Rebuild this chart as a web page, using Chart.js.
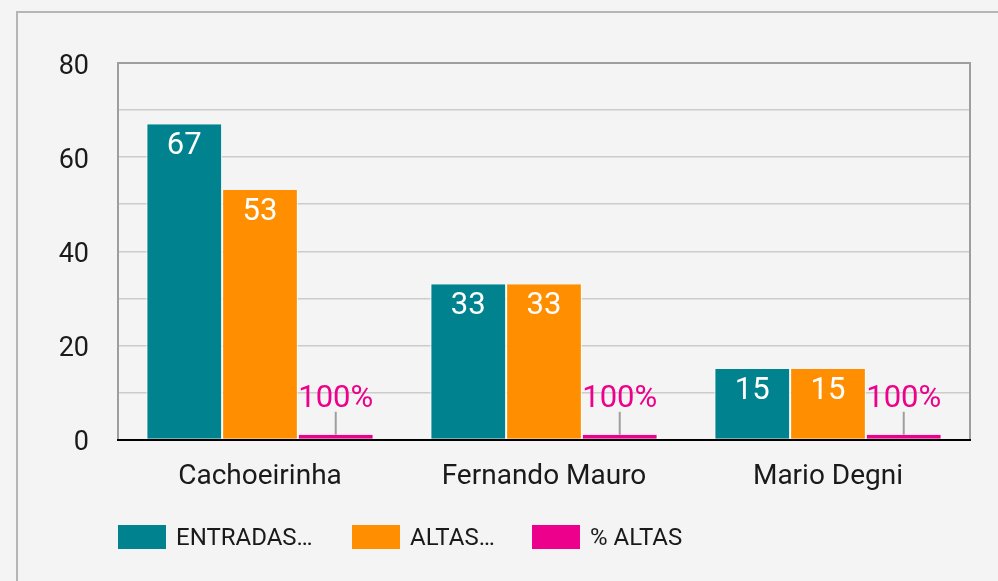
<!DOCTYPE html>
<html><head><meta charset="utf-8">
<script src="https://cdn.jsdelivr.net/npm/chart.js@4"></script>
<style>
html,body{margin:0;padding:0;background:#f4f4f4;width:998px;height:581px;overflow:hidden}
#frame{position:absolute;left:16px;top:11px;width:1200px;height:800px;border-left:2px solid #b5b5b5;border-top:2px solid #b5b5b5}
canvas{position:absolute;left:0;top:0}
</style></head><body>
<div id="frame"></div>
<canvas id="c" width="998" height="581"></canvas>
<script>
const categories = ['Cachoeirinha', 'Fernando Mauro', 'Mario Degni'];
const seriesNames = ['ENTRADAS…', 'ALTAS…', '% ALTAS'];
const entradas = [67, 33, 15];
const altas = [53, 33, 15];
const pctAltas = [1, 1, 1];
const pctLabels = ['100%', '100%', '100%'];
const yMax = 80;
const yStep = 10;
const yLabelStep = 20;
const colors = ['#00838f', '#ff8f00', '#ec008c'];

const FONT = 'Roboto';

const frameLines = {
  id: 'frameLines',
  afterDatasetsDraw(chart) {
    const {ctx, chartArea: a} = chart;
    ctx.save();
    ctx.strokeStyle = '#9e9e9e';
    ctx.lineWidth = 2;
    ctx.beginPath();
    ctx.moveTo(a.left, a.bottom);
    ctx.lineTo(a.left, a.top);
    ctx.lineTo(a.right, a.top);
    ctx.lineTo(a.right, a.bottom);
    ctx.stroke();
    ctx.strokeStyle = '#000';
    ctx.lineWidth = 2;
    ctx.beginPath();
    ctx.moveTo(a.left - 1, a.bottom + 0.5);
    ctx.lineTo(a.right + 1, a.bottom + 0.5);
    ctx.stroke();
    ctx.restore();
  }
};

const valueLabels = {
  id: 'valueLabels',
  afterDatasetsDraw(chart) {
    const ctx = chart.ctx;
    ctx.save();
    ctx.textAlign = 'center';
    ctx.textBaseline = 'alphabetic';
    ctx.font = '31px ' + FONT;
    [0, 1].forEach(di => {
      chart.getDatasetMeta(di).data.forEach((bar, i) => {
        ctx.fillStyle = '#ffffff';
        ctx.fillText(String(chart.data.datasets[di].data[i]), bar.x, bar.y + 30);
      });
    });
    chart.getDatasetMeta(2).data.forEach((bar, i) => {
      ctx.strokeStyle = '#9e9e9e';
      ctx.lineWidth = 2;
      ctx.beginPath();
      ctx.moveTo(bar.x, bar.y - 23);
      ctx.lineTo(bar.x, bar.y);
      ctx.stroke();
      ctx.fillStyle = colors[2];
      ctx.fillText(pctLabels[i], bar.x, bar.y - 28);
    });
    ctx.restore();
  }
};

const customLegend = {
  id: 'customLegend',
  afterDraw(chart) {
    const ctx = chart.ctx;
    const left = chart.chartArea.left;
    const offsets = [0, 234, 414];
    ctx.save();
    ctx.font = '24px ' + FONT;
    ctx.textAlign = 'left';
    ctx.textBaseline = 'alphabetic';
    chart.data.datasets.forEach((ds, i) => {
      const x = left + offsets[i];
      ctx.fillStyle = ds.backgroundColor;
      ctx.fillRect(x, 525, 48, 24);
      ctx.fillStyle = '#1a1a1a';
      ctx.fillText(ds.label, x + 58, 545);
    });
    ctx.restore();
  }
};

const barBorder = {left: 1, right: 1, top: 0, bottom: 0};

new Chart(document.getElementById('c'), {
  type: 'bar',
  data: {
    labels: categories,
    datasets: [
      {label: seriesNames[0], data: entradas, backgroundColor: colors[0], borderColor: '#ffffff', borderWidth: barBorder},
      {label: seriesNames[1], data: altas, backgroundColor: colors[1], borderColor: '#ffffff', borderWidth: barBorder},
      {label: seriesNames[2], data: pctAltas, backgroundColor: colors[2], borderColor: '#ffffff', borderWidth: barBorder}
    ]
  },
  options: {
    responsive: false,
    animation: false,
    events: [],
    layout: {padding: {left: 0, right: 28, top: 63, bottom: 81.5}},
    datasets: {bar: {categoryPercentage: 0.8, barPercentage: 1}},
    plugins: {legend: {display: false}, tooltip: {enabled: false}},
    scales: {
      x: {
        grid: {display: false},
        border: {display: false},
        ticks: {color: '#1a1a1a', font: {family: FONT, size: 28}, padding: 13},
        afterFit(s) { s.height = 60; }
      },
      y: {
        min: 0, max: yMax,
        grid: {color: '#cccccc', lineWidth: 1.5, drawTicks: false},
        border: {display: false},
        ticks: {
          stepSize: yStep,
          color: '#1a1a1a',
          font: {family: FONT, size: 27},
          padding: 29,
          labelOffset: 4,
          callback: v => (v % yLabelStep === 0 ? String(v) : '')
        },
        afterFit(s) { s.width = 118; }
      }
    }
  },
  plugins: [frameLines, valueLabels, customLegend]
});
</script>
</body></html>
